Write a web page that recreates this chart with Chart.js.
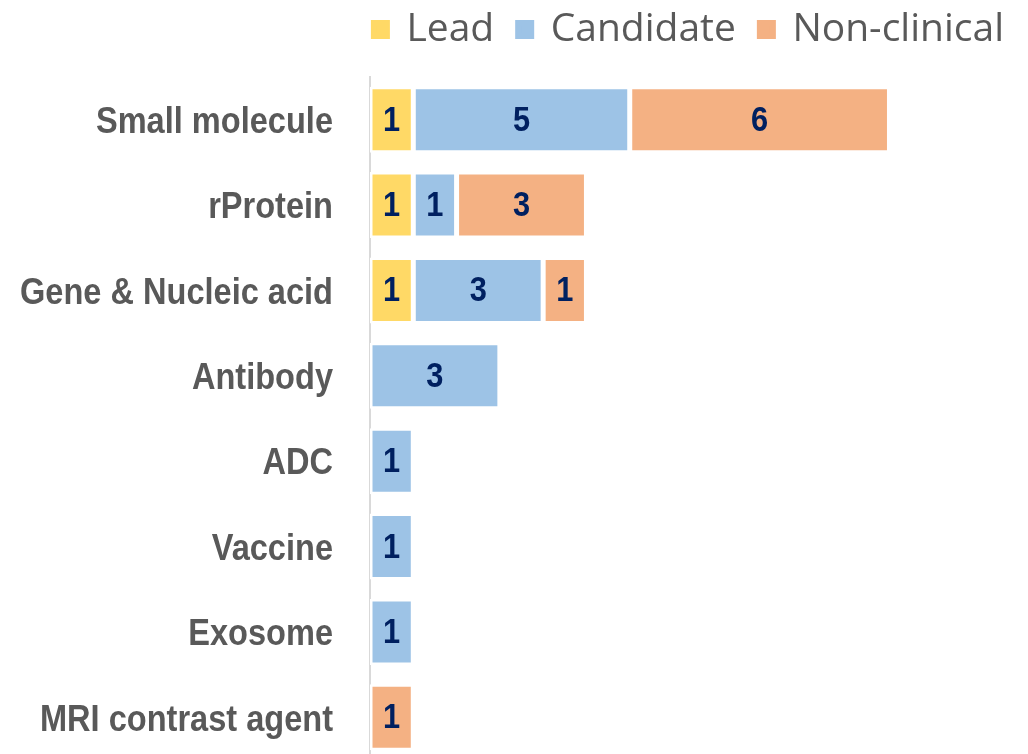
<!DOCTYPE html>
<html>
<head>
<meta charset="utf-8">
<script src="https://cdn.jsdelivr.net/npm/chart.js@4/dist/chart.umd.min.js"></script>
<style>
  html, body { margin: 0; padding: 0; background: #fff; overflow: hidden; }
  #wrap { position: absolute; left: 0; top: -14px; width: 1028px; height: 774px; }
</style>
</head>
<body>
<div id="wrap"><canvas id="chart"></canvas></div>
<script>
// categories, top to bottom
var categories = ['Small molecule', 'rProtein', 'Gene & Nucleic acid', 'Antibody', 'ADC', 'Vaccine', 'Exosome', 'MRI contrast agent'];

// series values (null = no segment)
var lead        = [1, 1, 1, null, null, null, null, null];
var candidate   = [5, 1, 3, 3, 1, 1, 1, null];
var nonClinical = [6, 3, 1, null, null, null, null, 1];

// no narrow font installed, so squeeze Liberation Sans Bold a bit
var squeeze = 0.88;

function narrowText(ctx, text, x, y, size, color){
    ctx.save();
    ctx.font = 'bold ' + size + "px 'Liberation Sans', Arial, sans-serif";
    ctx.fillStyle = color;
    ctx.textBaseline = 'alphabetic';
    ctx.translate(x, y + size * 0.358);
    ctx.scale(squeeze, 1);
    ctx.fillText(text, 0, 0);
    ctx.restore();
}

// category names next to the y axis + numbers inside each segment
var barText = {
    id: 'barText',
    beforeInit: function(chart){
        // leave a gap under the legend
        var fit = chart.legend.fit;
        chart.legend.fit = function(){
            fit.call(this);
            this.height += 18;
        };
    },
    afterDatasetsDraw: function(chart){
        var ctx = chart.ctx;
        var yScale = chart.scales.y;

        ctx.textAlign = 'right';
        categories.forEach(function(name, i){
            narrowText(ctx, name, yScale.right - 37, yScale.getPixelForValue(i), 37, '#595959');
        });

        ctx.textAlign = 'center';
        chart.data.datasets.forEach(function(ds, i){
            var meta = chart.getDatasetMeta(i);
            meta.data.forEach(function(bar, j){
                var v = ds.data[j];
                if (v == null) return;
                var p = bar.getProps(['x', 'y', 'base'], true);
                narrowText(ctx, String(v), (p.x + p.base) / 2, p.y - 1.5, 35, '#002060');
            });
        });
        ctx.textAlign = 'left';
    }
};

var ctx = document.getElementById('chart');

var chart = new Chart(ctx, {
    type: 'bar',
    data: {
        labels: categories,
        datasets: [{
            label: 'Lead',
            data: lead,
            backgroundColor: '#FFD966',
            borderColor: '#ffffff',
            borderWidth: 2.5,
            borderSkipped: false
        }, {
            label: 'Candidate',
            data: candidate,
            backgroundColor: '#9DC3E6',
            borderColor: '#ffffff',
            borderWidth: 2.5,
            borderSkipped: false
        }, {
            label: 'Non-clinical',
            data: nonClinical,
            backgroundColor: '#F4B183',
            borderColor: '#ffffff',
            borderWidth: 2.5,
            borderSkipped: false
        }]
    },
    plugins: [barText],
    options: {
        indexAxis: 'y',
        responsive: true,
        maintainAspectRatio: false,
        animation: false,
        layout: { padding: 0 },
        datasets: {
            bar: { categoryPercentage: 0.773, barPercentage: 1 }
        },
        scales: {
            x: {
                stacked: true,
                display: false,
                min: 0,
                max: 15.2
            },
            y: {
                stacked: true,
                grid: { display: false, drawTicks: false },
                border: { display: true, color: '#d9d9d9', width: 2 },
                ticks: { display: false },
                afterFit: function(scale){ scale.width = 370; }
            }
        },
        plugins: {
            tooltip: { enabled: false },
            legend: {
                position: 'top',
                align: 'end',
                labels: {
                    boxWidth: 13,
                    boxHeight: 13,
                    padding: 24,
                    color: '#595959',
                    font: { family: "'Open Sans', sans-serif", size: 39 },
                    // square drawn a bit smaller, thick outline in the same colour
                    generateLabels: function(chart){
                        var items = Chart.defaults.plugins.legend.labels.generateLabels(chart);
                        items.forEach(function(it){
                            it.strokeStyle = it.fillStyle;
                            it.lineWidth = 6;
                        });
                        return items;
                    }
                }
            }
        }
    }
});
</script>
</body>
</html>
